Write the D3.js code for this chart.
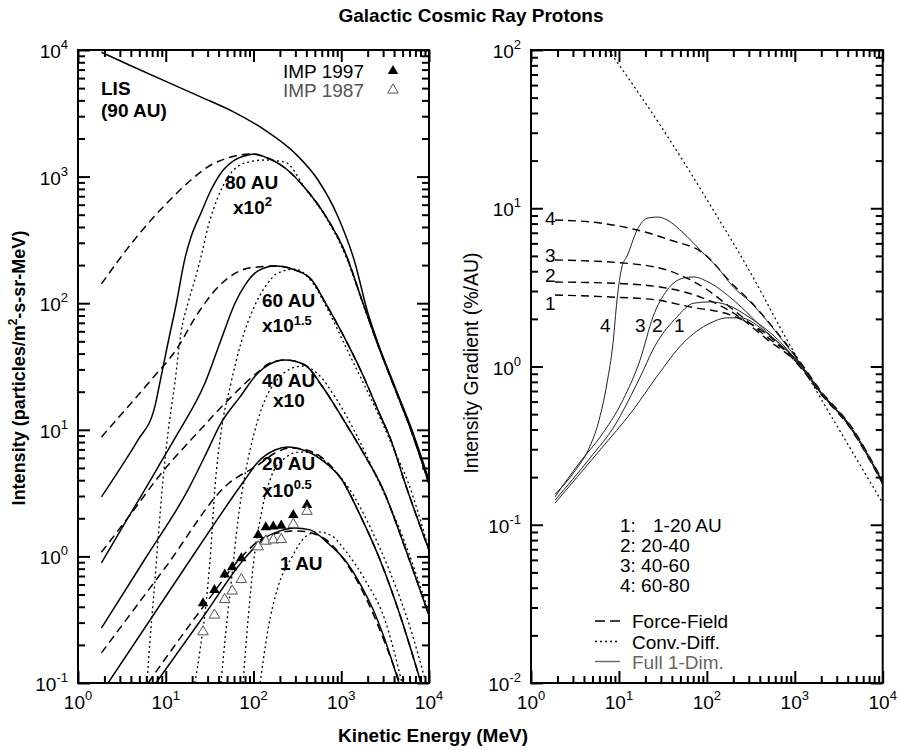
<!DOCTYPE html>
<html>
<head>
<meta charset="utf-8">
<script src="https://cdn.jsdelivr.net/npm/d3@7"></script>
<style>
  body { margin: 0; background: #fff; }
  svg text { font-family: "Liberation Sans", Arial, Helvetica, sans-serif; }
</style>
</head>
<body>
<div id="chart"></div>
<script>
// ---- data: [kinetic energy (MeV), value] ----
// left panel: intensity (particles/m2-s-sr-MeV)
const lis = [[1.85,9600],[4.24,7380],[24.6,4280],[58.4,3260],[135,2330],[297,1530],[543,940],[918,482],[1435,208],[1970,88],[2620,48.5],[4100,21.8],[6400,9.96],[10000,4.0]];

const ff80 = [[1.85,142],[3.09,232],[5.8,400],[10.6,630],[19.4,940],[32.8,1235],[55.4,1428],[91.2,1509],[135,1428],[229,1169],[386,813],[653,497],[1100,254],[1720,106],[2620,46.7],[4100,21.0],[6400,9.44],[10000,3.73]];
const full80 = [[1.85,2.95],[3.09,5.08],[4.83,8.31],[7.48,15.1],[8.83,26.1],[10.6,48.5],[13.1,96.8],[16.6,228],[19.4,333],[25.2,516],[32.8,784],[42.6,1068],[61.5,1353],[86.6,1483],[104,1509],[135,1428],[229,1169],[386,813],[653,497],[1100,254],[1720,106],[2620,46.7],[4100,21.0],[6400,9.44],[10000,3.73]];
const cd80 = [[6.11,0.1],[6.62,0.219],[7.54,0.651],[8.16,1.35],[9.3,4.01],[10.6,9.44],[12.7,23.4],[14.9,58.2],[17.9,100],[21.4,152],[25.2,232],[30.3,400],[39.4,690],[51.2,993],[70.2,1235],[96.1,1320],[135,1353],[229,1300],[386,813],[653,489],[1100,245],[1720,104],[2620,46.7],[4100,21.0],[6400,9.44],[10000,3.73]];

const ff60 = [[1.85,8.77],[3.43,14.3],[6.79,24.7],[13.8,45.1],[21.5,76.4],[32.8,116],[51.2,158],[80,186],[112.5,193],[176,197],[297,183],[464,152],[653,102],[1020,58.2],[1720,28.1],[2620,14.3],[3790,7.87],[5190,4.01],[10000,1.12]];
const full60 = [[1.85,0.887],[3.43,1.84],[5.76,3.35],[8.83,5.57],[13.8,9.44],[28,23.4],[42.6,51.2],[61.5,100],[80,139],[112.5,180],[176,197],[297,183],[464,152],[653,102],[1020,58.2],[1720,28.1],[2620,14.3],[3790,7.87],[5190,4.01],[10000,1.12]];
const cd60 = [[21.5,0.1],[24.6,0.182],[28,0.357],[32.8,1.19],[36.4,3.53],[42.6,9.44],[55.4,23.4],[72,48.5],[104,96.8],[135,134],[190,173],[297,186],[464,147],[706,88.4],[1100,46.7],[1720,24.7],[2770,12.4],[4100,6.68],[5760,3.87],[10000,1.12]];

const ff40 = [[1.85,1.08],[3.91,2.12],[8.6,4.4],[24.6,9.96],[54,17.8],[112.5,28.6],[154,33.7],[229,35.6],[386,32.5],[603,22.2],[1100,11.5],[1870,6.21],[2910,3.53],[5330,1.17],[10000,0.34]];
const full40 = [[1.85,0.272],[5.8,0.954],[17.9,3.35],[28,6.21],[42.6,11.3],[70.2,18.2],[112.5,28.1],[154,33.1],[229,35.6],[386,32.5],[603,22.2],[1100,11.5],[1870,6.21],[2910,3.53],[5330,1.17],[10000,0.34]];
const cd40 = [[42.6,0.1],[48.6,0.262],[56.9,0.713],[66.6,1.94],[80,4.4],[104,9.96],[135,17.2],[185,24.7],[261,30.2],[366,31.9],[543,27.6],[849,18.2],[1435,9.61],[2620,4.01],[5330,1.28],[10000,0.357]];

const ff20 = [[1.85,0.173],[9.8,0.81],[51.2,3.73],[112.5,5.27],[176,6.56],[261,7.18],[440,6.8],[744,5.27],[1020,4.01],[1640,2.12],[2770,0.937],[4670,0.344],[8110,0.1]];
const full20 = [[2.2,0.1],[13.1,0.639],[79.4,4.01],[112.5,5.57],[176,6.92],[247,7.31],[339,7.05],[603,5.77],[1020,4.01],[1640,2.12],[2770,0.937],[4670,0.344],[8110,0.1]];
const cd20 = [[75.9,0.1],[86.6,0.314],[101,0.937],[125,2.33],[162,4.4],[229,5.99],[339,6.68],[464,6.56],[744,5.18],[1260,3.35],[2130,1.71],[3590,0.753],[6070,0.277],[9240,0.1]];

const ff1 = [[6.28,0.1],[26.6,0.398],[80,1.06],[119,1.35],[190,1.53],[321,1.59],[603,1.42],[1100,0.92],[1720,0.543],[2240,0.37],[3150,0.207],[4670,0.1]];
const full1 = [[7.74,0.1],[26.6,0.332],[80,0.971],[135,1.4],[200,1.59],[297,1.68],[440,1.62],[744,1.23],[1100,0.937],[1720,0.573],[2240,0.398],[3150,0.219],[4550,0.1]];
const cd1 = [[119,0.1],[146,0.262],[190,0.573],[275,0.989],[386,1.42],[543,1.56],[785,1.45],[1100,1.12],[1870,0.651],[3150,0.314],[4920,0.1]];

// IMP measurements
const impE = [26.6,35.9,47.0,57.2,72.6,113,138,168,207,284,407];
const imp1997 = [0.426,0.543,0.719,0.82,0.966,1.475,1.70,1.72,1.75,2.12,2.55];
const imp1987 = [0.254,0.344,0.457,0.533,0.657,1.19,1.32,1.35,1.36,1.79,2.27];

// right panel: intensity gradient (%/AU)
const cdR = [[7.62,100],[29.4,33.6],[115,10.0],[310,3.96],[817,1.47],[1790,0.69],[4260,0.305],[10000,0.137]];
const ffR1 = [[1.875,2.83],[7.92,2.75],[27.1,2.63],[64.4,2.38],[184,2.12],[480,1.6],[1149,0.993],[1940,0.68],[4260,0.409],[10000,0.181]];
const ffR2 = [[1.875,3.42],[9.51,3.35],[35,3.13],[83.7,2.75],[200,2.18],[480,1.49],[1149,1.01],[1940,0.69],[4260,0.415],[10000,0.184]];
const ffR3 = [[1.875,4.71],[11.1,4.51],[35,4.07],[90.5,3.18],[200,2.28],[480,1.54],[1149,1.04],[1940,0.7],[4260,0.421],[10000,0.186]];
const ffR4 = [[1.875,8.43],[6.1,8.07],[16.1,7.29],[38.1,6.3],[90.5,5.21],[200,3.27],[310,2.59],[736,1.47],[1149,1.07],[1940,0.71],[4260,0.427],[10000,0.189]];
const fullR1 = [[1.875,0.137],[6.1,0.297],[14.5,0.531],[26.9,0.862],[54,1.41],[109,1.88],[170,2.03],[239,2.03],[480,1.63],[1149,1.01],[1940,0.69],[4260,0.415],[10000,0.184]];
const fullR2 = [[1.875,0.143],[4.69,0.264],[9.03,0.427],[16.1,0.783],[26.9,1.41],[45.8,2.06],[70.2,2.51],[109,2.56],[170,2.45],[310,2.03],[736,1.37],[1149,1.02],[1940,0.695],[4260,0.418],[10000,0.185]];
const fullR3 = [[1.875,0.15],[3.61,0.249],[6.1,0.358],[11.1,0.614],[17.4,1.1],[24.4,2.06],[35.3,3.04],[54,3.62],[69.7,3.68],[109,3.37],[200,2.63],[480,1.65],[1149,1.04],[1940,0.7],[4260,0.421],[10000,0.186]];
const fullR4 = [[1.875,0.156],[3.17,0.219],[4.69,0.314],[5.78,0.433],[7.32,0.786],[8.57,1.41],[9.51,2.63],[10.8,4.25],[12.4,4.99],[16.1,7.29],[21.4,8.68],[27.9,8.8],[35.3,8.43],[54,6.98],[83.7,5.45],[131,4.25],[200,3.18],[310,2.56],[736,1.45],[1149,1.05],[1940,0.7],[4260,0.421],[10000,0.186]];

// tick labels (exponents of 10)
const xTickExp = ["0","1","2","3","4"];
const yLeftExp = ["-1","0","1","2","3","4"];
const yRightExp = ["-2","-1","0","1","2"];

// ---- layout ----
const W = 898, H = 750;
const FONT = "'Liberation Sans', Arial, Helvetica, sans-serif";
const svg = d3.select("#chart").append("svg").attr("width", W).attr("height", H)
  .attr("font-family", FONT);

const xL = d3.scaleLog().domain([1, 1e4]).range([78, 429]);
const yL = d3.scaleLog().domain([0.1, 1e4]).range([683, 50]);
const xR = d3.scaleLog().domain([1, 1e4]).range([531, 882.7]);
const yR = d3.scaleLog().domain([0.01, 100]).range([683, 50]);

function minorTicks(exps) {
  const t = [];
  for (let i = 0; i < exps.length - 1; i++)
    for (let k = 2; k < 10; k++) t.push(k * Math.pow(10, +exps[i]));
  return t;
}

function drawFrame(x, y, yExp) {
  const [x0, x1] = x.range(), [y1, y0] = y.range();
  const g = svg.append("g");
  const xMaj = xTickExp.map(e => Math.pow(10, +e)), yMaj = yExp.map(e => Math.pow(10, +e));
  const xMin = minorTicks(xTickExp), yMin = minorTicks(yExp);
  const sides = [
    [d3.axisBottom, x, `translate(0,${y1})`, xMaj, xMin],
    [d3.axisTop, x, `translate(0,${y0})`, xMaj, xMin],
    [d3.axisLeft, y, `translate(${x0},0)`, yMaj, yMin],
    [d3.axisRight, y, `translate(${x1},0)`, yMaj, yMin]
  ];
  sides.forEach(([fn, sc, tr, maj, mn]) => {
    g.append("g").attr("transform", tr).call(fn(sc).tickValues(maj).tickSize(-12).tickFormat(""));
    g.append("g").attr("transform", tr).call(fn(sc).tickValues(mn).tickSize(-7).tickFormat(""));
  });
  g.selectAll(".domain").remove();
  g.selectAll(".tick line").attr("stroke", "#000").attr("stroke-width", 2);
  g.append("rect").attr("x", x0).attr("y", y0).attr("width", x1 - x0).attr("height", y1 - y0)
    .attr("fill", "none").attr("stroke", "#000").attr("stroke-width", 2);

  // decade labels with superscripts
  xTickExp.forEach(e => {
    const t = g.append("text").attr("x", x(Math.pow(10, +e))).attr("y", y1 + 26)
      .attr("text-anchor", "middle").attr("font-size", 19).text("10");
    t.append("tspan").attr("dy", -9).attr("font-size", 13).text(e);
  });
  yExp.forEach(e => {
    const t = g.append("text").attr("x", x0 - 10).attr("y", y(Math.pow(10, +e)) + 8)
      .attr("text-anchor", "end").attr("font-size", 19).text("10");
    t.append("tspan").attr("dy", -9).attr("font-size", 13).text(e);
  });
}

function clip(id, x, y) {
  const [x0, x1] = x.range(), [y1, y0] = y.range();
  svg.append("clipPath").attr("id", id).append("rect")
    .attr("x", x0).attr("y", y0).attr("width", x1 - x0).attr("height", y1 - y0);
  return svg.append("g").attr("clip-path", `url(#${id})`);
}

const styles = {
  solid: { dash: null, w: 1.5 },
  dashed: { dash: "8,5", w: 1.5 },
  dotted: { dash: "2,3", w: 1.3 }
};

function drawCurve(g, x, y, data, style, color, width) {
  const line = d3.line().x(d => x(d[0])).y(d => y(d[1])).curve(d3.curveMonotoneX);
  g.append("path").datum(data).attr("d", line)
    .attr("fill", "none").attr("stroke", color || "#000")
    .attr("stroke-width", width || styles[style].w)
    .attr("stroke-dasharray", styles[style].dash);
}

// ---- left panel ----
const gL = clip("clipL", xL, yL);
drawCurve(gL, xL, yL, lis, "solid");
[[ff80, full80, cd80], [ff60, full60, cd60], [ff40, full40, cd40], [ff20, full20, cd20], [ff1, full1, cd1]]
  .forEach(([ff, full, cd]) => {
    drawCurve(gL, xL, yL, ff, "dashed");
    drawCurve(gL, xL, yL, cd, "dotted");
    drawCurve(gL, xL, yL, full, "solid");
  });

const tri = d3.symbol().type(d3.symbolTriangle).size(48);
gL.selectAll(".imp97").data(impE).join("path")
  .attr("transform", (d, i) => `translate(${xL(d)},${yL(imp1997[i])})`)
  .attr("d", tri).attr("fill", "#000");
gL.selectAll(".imp87").data(impE).join("path")
  .attr("transform", (d, i) => `translate(${xL(d)},${yL(imp1987[i])})`)
  .attr("d", tri).attr("fill", "#fff").attr("stroke", "#555").attr("stroke-width", 1);

drawFrame(xL, yL, yLeftExp);

// ---- right panel ----
const gR = clip("clipR", xR, yR);
drawCurve(gR, xR, yR, cdR, "dotted", "#000", 1.2);
[ffR1, ffR2, ffR3, ffR4].forEach(d => drawCurve(gR, xR, yR, d, "dashed", "#000", 1.4));
[fullR1, fullR2, fullR3, fullR4].forEach(d => drawCurve(gR, xR, yR, d, "solid", "#222", 1));

drawFrame(xR, yR, yRightExp);

// ---- text ----
function label(x, y, txt, opts = {}) {
  const t = svg.append("text").attr("x", x).attr("y", y)
    .attr("font-family", FONT)
    .attr("font-size", opts.size || 19)
    .attr("font-weight", opts.bold ? "bold" : "normal")
    .attr("fill", opts.color || "#000")
    .attr("text-anchor", opts.anchor || "start")
    .text(txt);
  if (opts.sup) t.append("tspan").attr("dy", opts.supDy || -8).attr("font-size", 13).text(opts.sup);
  return t;
}

label(471, 22, "Galactic Cosmic Ray Protons", { bold: true, anchor: "middle" });
label(433, 742, "Kinetic Energy (MeV)", { bold: true, anchor: "middle" });

const yt = svg.append("text").attr("transform", "translate(25,368) rotate(-90)")
  .attr("text-anchor", "middle").attr("font-size", 18).attr("font-weight", "bold")
  .text("Intensity (particles/m");
yt.append("tspan").attr("dy", -8).attr("font-size", 12).text("2");
yt.append("tspan").attr("dy", 8).text("-s-sr-MeV)");

svg.append("text").attr("transform", "translate(478,363) rotate(-90)")
  .attr("text-anchor", "middle").attr("font-size", 19.5)
  .text("Intensity Gradient (%/AU)");

// left panel annotations
label(101, 95, "LIS", { bold: true });
label(101, 117, "(90 AU)", { bold: true });
label(283, 78, "IMP 1997");
label(283, 97, "IMP 1987", { color: "#555" });
svg.append("path").attr("transform", "translate(393,71)").attr("d", tri).attr("fill", "#000");
svg.append("path").attr("transform", "translate(393,90)").attr("d", tri)
  .attr("fill", "#fff").attr("stroke", "#555").attr("stroke-width", 1);

label(225, 189, "80 AU", { bold: true });
label(233, 214, "x10", { bold: true, sup: "2" });
label(262, 307, "60 AU", { bold: true });
label(262, 332, "x10", { bold: true, sup: "1.5", supDy: -7 });
label(262, 387, "40 AU", { bold: true });
label(273, 407, "x10", { bold: true });
label(262, 470, "20 AU", { bold: true });
label(262, 497, "x10", { bold: true, sup: "0.5" });
label(280, 570, "1 AU", { bold: true });

// right panel annotations
label(545, 225, "4");
label(545, 262, "3");
label(545, 282, "2");
label(545, 310, "1");
label(600, 332, "4");
label(635, 332, "3");
label(652, 332, "2");
label(674, 332, "1");

label(620, 532, "1:");
label(653, 532, "1-20 AU");
label(620, 552, "2: 20-40");
label(620, 572, "3: 40-60");
label(620, 592, "4: 60-80");

const legend = [
  { y: 621, text: "Force-Field", dash: "10,5", color: "#000" },
  { y: 641.5, text: "Conv.-Diff.", dash: "2,3", color: "#000" },
  { y: 661.5, text: "Full 1-Dim.", dash: null, color: "#666" }
];
legend.forEach(d => {
  svg.append("line").attr("x1", 595).attr("x2", 620).attr("y1", d.y).attr("y2", d.y)
    .attr("stroke", d.color).attr("stroke-width", 1.4).attr("stroke-dasharray", d.dash);
  label(632, d.y + 7, d.text, { color: d.color });
});
</script>
</body>
</html>
